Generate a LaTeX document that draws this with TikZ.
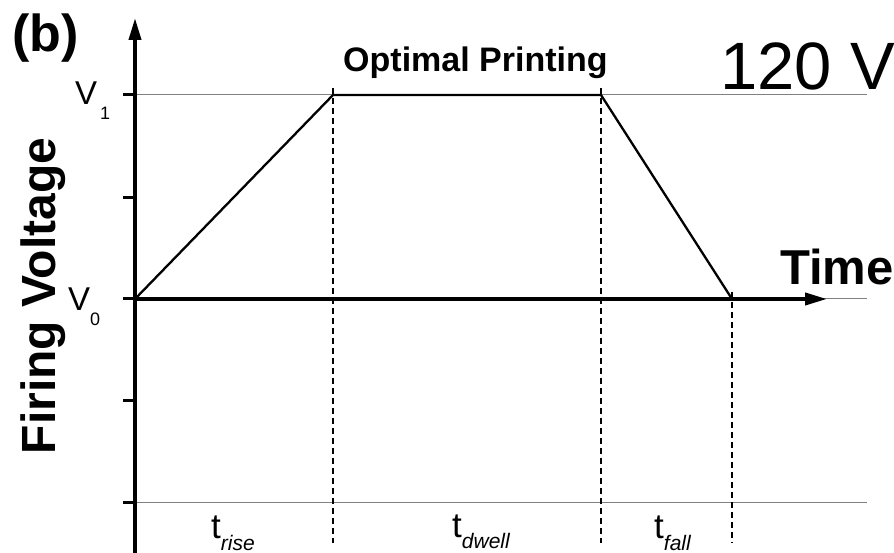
\documentclass[tikz,border=0pt]{standalone}
\usepackage{fontspec}
\setmainfont{Liberation Sans}
\usetikzlibrary{arrows.meta}
\newcommand{\fsz}[1]{\fontsize{#1}{#1}\selectfont}
\begin{document}
\begin{tikzpicture}[x=1pt,y=-1pt,
  axisline/.style={line width=3.8pt},
  tickline/.style={line width=3pt},
  guide/.style={line width=1pt,draw=black!50},
  pulse/.style={line width=2.3pt,line join=miter},
  marker/.style={line width=2.4pt,dash pattern=on 6pt off 4pt},
  lbl/.style={inner sep=0pt,anchor=base west},
  vlab/.style={inner sep=0pt,anchor=base west,font=\fsz{33}},
  tlab/.style={inner sep=0pt,anchor=base west,font=\fsz{35}}]
\useasboundingbox (0,0) rectangle (894,553);
% coordinates
\coordinate (o) at (135,299);
\coordinate (ytop) at (135,18);
\coordinate (ybot) at (135,553);
\coordinate (xend) at (827,299);
\coordinate (p1) at (333,95);
\coordinate (p2) at (601,95);
\coordinate (p3) at (732,299);
% gray guide lines
\draw[guide] (135,95) -- (867,95);
\draw[guide] (135,299) -- (867,299);
\draw[guide] (135,502) -- (867,502);
% dashed markers
\draw[marker] (333,88) -- (333,543);
\draw[marker] (601,88) -- (601,543);
\draw[marker] (732,292) -- (732,543);
% pulse
\draw[pulse] (o) -- (p1) -- (p2) -- (p3);
% axes
\draw[axisline,-{Triangle[length=22pt,width=12pt]}] (ybot) -- (ytop);
\draw[axisline,-{Triangle[length=22pt,width=12pt]}] (o) -- (xend);
% ticks
\foreach \yy in {95,198,299,400,502} \draw[tickline] (123,\yy) -- (136,\yy);
% labels
\node[lbl,font=\bfseries\fsz{52}] (b) at (12,52) {(b)};
\node[lbl,font=\bfseries\fsz{34}] (opt) at (343,72) {Optimal Printing};
\node[lbl,font=\fsz{67}] (volt) at (720,90) {120 V};
\node[lbl,font=\bfseries\fsz{49}] (time) at (780,285) {Time};
\node[inner sep=0pt,anchor=base,rotate=90,font=\bfseries\fsz{48}] (fv) at (55,296) {Firing Voltage};
\node[vlab] (v1) at (75,105) {V\kern3pt\raisebox{-15pt}{\fsz{18}1}};
\node[vlab] (v0) at (68,310) {V\raisebox{-15pt}{\fsz{18}0}};
\node[tlab] (tr) at (211,538) {t\raisebox{-12pt}{\fsz{21}\itshape rise}};
\node[tlab] (td) at (452,537) {t\raisebox{-11pt}{\fsz{21}\itshape dwell}};
\node[tlab] (tf) at (654,538) {t\raisebox{-12pt}{\fsz{21}\itshape fall}};
\end{tikzpicture}
\end{document}
